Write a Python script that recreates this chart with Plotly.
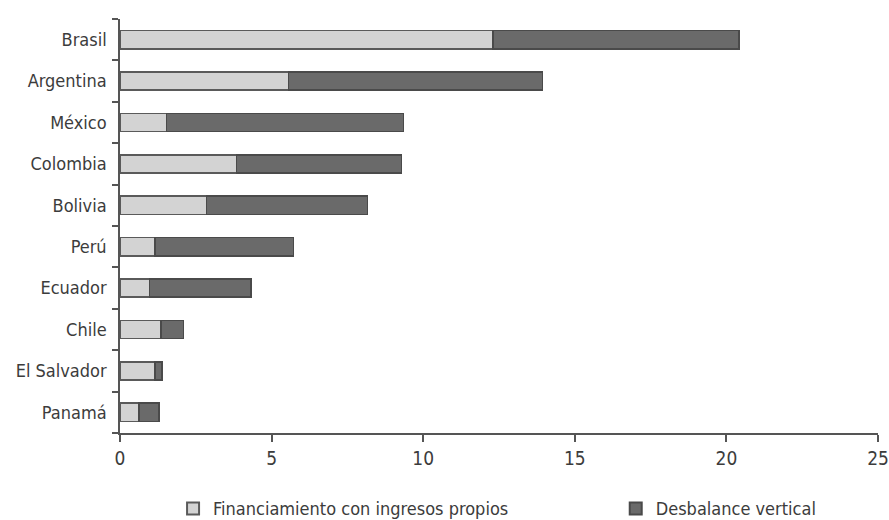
import plotly.graph_objects as go

countries = ["Brasil", "Argentina", "México", "Colombia", "Bolivia", "Perú",
             "Ecuador", "Chile", "El Salvador", "Panamá"]
propios = [12.31, 5.55, 1.54, 3.85, 2.86, 1.16, 0.97, 1.35, 1.16, 0.62]
totales = [20.42, 13.94, 9.35, 9.28, 8.16, 5.72, 4.32, 2.10, 1.39, 1.28]
desbalance = [t - p for t, p in zip(totales, propios)]
x_ticks = [0, 5, 10, 15, 20, 25]

font_family = "Liberation Sans Narrow, DejaVu Sans Condensed, sans-serif"

fig = go.Figure()
fig.add_trace(go.Bar(
    y=countries, x=propios, orientation="h",
    name="Financiamiento con ingresos propios",
    marker=dict(color="#d3d3d3", line=dict(color="#5a5a5a", width=1.5)),
    legend="legend",
))
fig.add_trace(go.Bar(
    y=countries, x=desbalance, orientation="h",
    name="Desbalance vertical",
    marker=dict(color="#6a6a6a", line=dict(color="#4a4a4a", width=1.5)),
    legend="legend2",
))

legend_common = dict(
    orientation="h", xanchor="left", y=-0.183, yanchor="middle",
    font=dict(family=font_family, size=18, color="#3c3c3c"),
    itemsizing="constant", itemwidth=30, bgcolor="rgba(0,0,0,0)",
)

fig.update_layout(
    barmode="stack",
    bargap=0.56,
    width=889, height=520,
    margin=dict(l=120, r=11, t=19, b=87, autoexpand=False),
    plot_bgcolor="white", paper_bgcolor="white",
    font=dict(family=font_family, size=18, color="#3c3c3c"),
    showlegend=True,
    legend=dict(x=0.07, **legend_common),
    legend2=dict(x=0.654, **legend_common),
    xaxis=dict(
        range=[0, 25], tickvals=x_ticks, showgrid=False, zeroline=False,
        showline=True, linecolor="#555555", linewidth=1.5,
        ticks="outside", ticklen=7, tickcolor="#555555", tickwidth=1.5,
        ticklabelstandoff=0, ticklabeloverflow="allow",
        tickfont=dict(size=19, color="#3c3c3c"),
    ),
    yaxis=dict(
        categoryorder="array", categoryarray=countries[::-1],
        showgrid=False, zeroline=False,
        showline=True, linecolor="#555555", linewidth=1.5,
        ticks="outside", ticklen=6, tickcolor="#555555", tickwidth=1.5,
        tickson="boundaries", ticklabelstandoff=8,
        tickfont=dict(size=18, color="#3c3c3c"),
    ),
)

fig.write_html(
    "out.html",
    config={"displayModeBar": False},
    post_script="document.body.style.margin='0';document.body.style.overflow='hidden';",
)
